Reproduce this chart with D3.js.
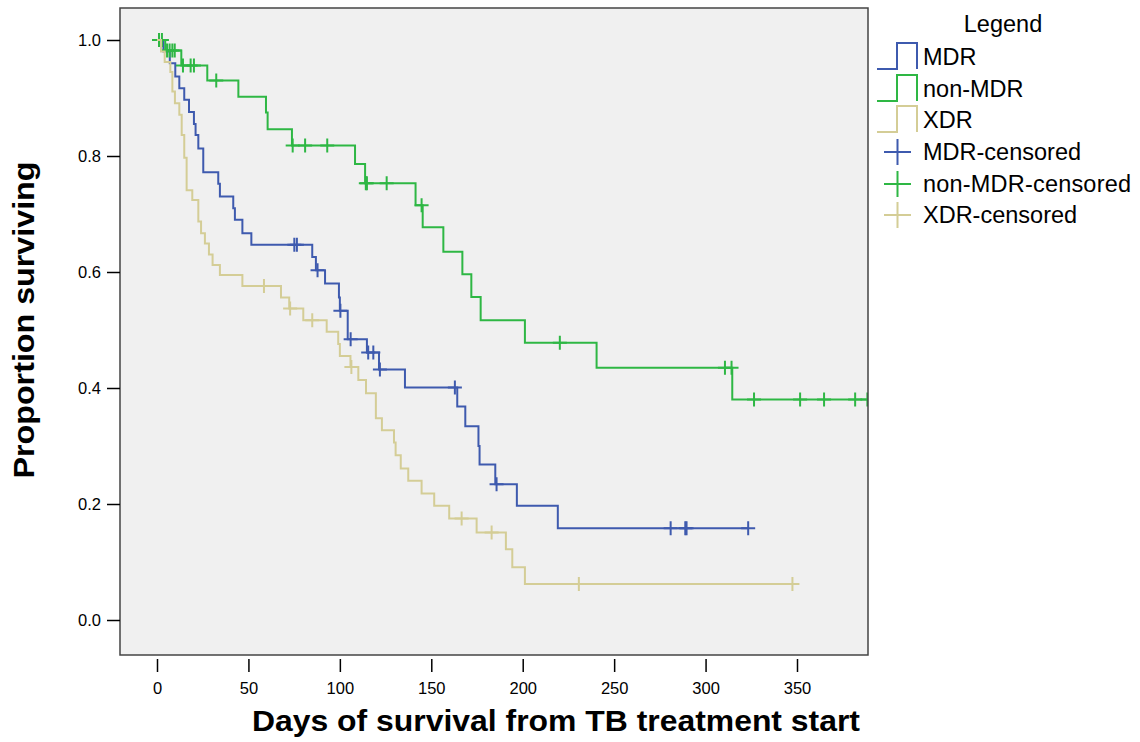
<!DOCTYPE html>
<html>
<head>
<meta charset="utf-8">
<script src="https://cdn.jsdelivr.net/npm/d3@7"></script>
<style>
  body { margin: 0; background: #fff; }
  text { font-family: Arial, "Liberation Sans", sans-serif; }
</style>
</head>
<body>
<div id="km_plot"></div>
<script>
// Kaplan-Meier steps: day of each drop and survival after it
const mdrDays = [3.5, 7, 10, 12.2, 14.9, 17.5, 20.2, 21.1, 22.6, 25.3, 33.5, 34.4, 41.7, 42.6, 46.7, 51.6,
  84.9, 86.9, 91.9, 99.5, 100, 104.3, 114.8, 121.4, 135.6, 164.2, 168.6, 175.8, 176.4, 185, 196.8, 219.2];
const mdrSurv = [0.98, 0.96, 0.937, 0.917, 0.897, 0.876, 0.855, 0.836, 0.813, 0.772, 0.752, 0.73, 0.71, 0.69, 0.667, 0.647,
  0.626, 0.603, 0.58, 0.556, 0.533, 0.484, 0.461, 0.432, 0.401, 0.368, 0.334, 0.3, 0.268, 0.234, 0.197, 0.158];
const mdrCensored = [75.1, 76.5, 87.8, 100.3, 105.9, 115.5, 118.3, 121.9, 162.9, 185.7, 280.9, 288.9, 289.6, 323.3];

const nonDays = [4.5, 13.3, 27.5, 44.5, 59.6, 60.5, 73.8, 108.3, 113.8, 141.4, 145.3, 156.6, 167, 171.9, 177, 201.2, 240.4, 314.6];
const nonSurv = [0.982, 0.956, 0.93, 0.902, 0.875, 0.846, 0.818, 0.786, 0.753, 0.715, 0.677, 0.635, 0.596, 0.557, 0.517, 0.478, 0.435, 0.38];
const nonCensored = [1.1, 2.7, 5.5, 6.9, 8.4, 9.7, 14.2, 18.4, 20.2, 32.4, 74.2, 81, 93.1, 114.2, 114.8, 125.6, 144.7,
  220.3, 310.6, 314.2, 326.5, 351.7, 364.8, 381.8, 388.5];

const xdrDays = [2.2, 4.2, 7.3, 8.4, 9.8, 12.2, 13.5, 14.9, 16.2, 19.3, 22.6, 24.1, 26.2, 28.4, 30.4, 34.4, 46.7,
  67.8, 72.3, 80, 92.8, 99.1, 100, 105.8, 110.1, 114.3, 119.7, 123, 129.6, 130.5, 133.3, 137.4, 144.7, 151.6, 159.8,
  174.8, 190.8, 194.3, 201.2];
const xdrSurv = [0.98, 0.962, 0.945, 0.911, 0.891, 0.871, 0.836, 0.797, 0.741, 0.724, 0.687, 0.667, 0.649, 0.63, 0.612, 0.595, 0.576,
  0.556, 0.537, 0.517, 0.497, 0.476, 0.455, 0.436, 0.414, 0.391, 0.348, 0.327, 0.306, 0.284, 0.261, 0.24, 0.218, 0.197, 0.175,
  0.151, 0.122, 0.091, 0.062];
const xdrCensored = [58.5, 72.8, 84.9, 106.3, 166.6, 183, 230.7, 347.5];

const xTicks = [0, 50, 100, 150, 200, 250, 300, 350];
const yTicks = [0, 0.2, 0.4, 0.6, 0.8, 1.0];

const groups = [
  {name: "MDR", days: mdrDays, surv: mdrSurv, cens: mdrCensored, color: "#3e5aae"},
  {name: "non-MDR", days: nonDays, surv: nonSurv, cens: nonCensored, color: "#2eb744"},
  {name: "XDR", days: xdrDays, surv: xdrSurv, cens: xdrCensored, color: "#d4cd96"}
];

const W = 1140, H = 742;
const plot = {left: 120, top: 8, right: 868, bottom: 655};

const svg = d3.select("#km_plot")
  .append("svg")
    .attr("width", W)
    .attr("height", H);

const x = d3.scaleLinear().domain([0, 350]).range([157, 797]);
const y = d3.scaleLinear().domain([0, 1]).range([620, 40]);

// plot background + frame
svg.append("rect")
  .attr("x", plot.left).attr("y", plot.top)
  .attr("width", plot.right - plot.left).attr("height", plot.bottom - plot.top)
  .attr("fill", "#f0f0f0");

svg.append("clipPath").attr("id", "clip")
  .append("rect")
  .attr("x", plot.left).attr("y", plot.top)
  .attr("width", plot.right - plot.left).attr("height", plot.bottom - plot.top);

// survival value at a given day
function survAt(g, day) {
  let s = 1;
  g.days.forEach((d, i) => { if (d <= day) s = g.surv[i]; });
  return s;
}

const line = d3.line()
  .x(d => x(d[0]))
  .y(d => y(d[1]))
  .curve(d3.curveStepAfter);

const curves = svg.append("g").attr("clip-path", "url(#clip)");

groups.forEach(g => {
  const end = d3.max(g.cens.concat(g.days));
  const pts = [[0, 1]].concat(g.days.map((d, i) => [d, g.surv[i]]));
  pts.push([end, g.surv[g.surv.length - 1]]);

  curves.append("path")
    .datum(pts)
    .attr("d", line)
    .attr("fill", "none")
    .attr("stroke", g.color)
    .attr("stroke-width", 2);

  // censored marks
  curves.append("g")
    .selectAll("path")
    .data(g.cens)
    .join("path")
      .attr("d", c => {
        const cx = x(c), cy = y(survAt(g, c));
        return `M${cx - 7},${cy}H${cx + 7}M${cx},${cy - 7}V${cy + 7}`;
      })
      .attr("stroke", g.color)
      .attr("stroke-width", 2)
      .attr("fill", "none");
});

svg.append("rect")
  .attr("x", plot.left).attr("y", plot.top)
  .attr("width", plot.right - plot.left).attr("height", plot.bottom - plot.top)
  .attr("fill", "none")
  .attr("stroke", "#444")
  .attr("stroke-width", 1.5);

// Y axis
const yAxis = svg.append("g")
  .attr("transform", `translate(${plot.left},0)`)
  .call(d3.axisLeft(y).tickValues(yTicks).tickFormat(d3.format(".1f")).tickSize(13).tickPadding(6));
yAxis.select(".domain").remove();
yAxis.selectAll("line").attr("stroke", "#000").attr("stroke-width", 1.5);
yAxis.selectAll("text").attr("font-size", 16.5).attr("fill", "#000")
  .style("font-family", "Arial, 'Liberation Sans', sans-serif");

// X axis
const xAxis = svg.append("g")
  .attr("transform", `translate(0,${plot.bottom + 4})`)
  .call(d3.axisBottom(x).tickValues(xTicks).tickSize(13).tickPadding(10));
xAxis.select(".domain").remove();
xAxis.selectAll("line").attr("stroke", "#000").attr("stroke-width", 1.5);
xAxis.selectAll("text").attr("font-size", 16.5).attr("fill", "#000")
  .style("font-family", "Arial, 'Liberation Sans', sans-serif");

// axis titles
svg.append("text")
  .attr("x", 556).attr("y", 731)
  .attr("text-anchor", "middle")
  .attr("font-size", 30).attr("font-weight", "bold")
  .attr("textLength", 608).attr("lengthAdjust", "spacingAndGlyphs")
  .text("Days of survival from TB treatment start");

svg.append("text")
  .attr("transform", "translate(34,320) rotate(-90)")
  .attr("text-anchor", "middle")
  .attr("font-size", 29).attr("font-weight", "bold")
  .attr("textLength", 317).attr("lengthAdjust", "spacingAndGlyphs")
  .text("Proportion surviving");

// Legend
const legend = svg.append("g");
legend.append("text")
  .attr("x", 1003).attr("y", 32)
  .attr("text-anchor", "middle")
  .attr("font-size", 23.5)
  .text("Legend");

const rowY = [65, 97, 128, 160, 192, 223];
groups.forEach((g, i) => {
  const b = rowY[i] + 4;
  legend.append("path")
    .attr("d", `M877,${b}H897V${b - 26}H917V${b}`)
    .attr("fill", "none").attr("stroke", g.color).attr("stroke-width", 2);
  legend.append("text")
    .attr("x", 923).attr("y", rowY[i])
    .attr("font-size", 23.5)
    .text(g.name);
});
groups.forEach((g, i) => {
  const cy = rowY[i + 3] - 8;
  legend.append("path")
    .attr("d", `M884,${cy}H911M897.5,${cy - 13}V${cy + 13}`)
    .attr("fill", "none").attr("stroke", g.color).attr("stroke-width", 2);
  legend.append("text")
    .attr("x", 923).attr("y", rowY[i + 3])
    .attr("font-size", 23.5)
    .attr("textLength", i === 1 ? 208 : null)
    .text(g.name + "-censored");
});
</script>
</body>
</html>
